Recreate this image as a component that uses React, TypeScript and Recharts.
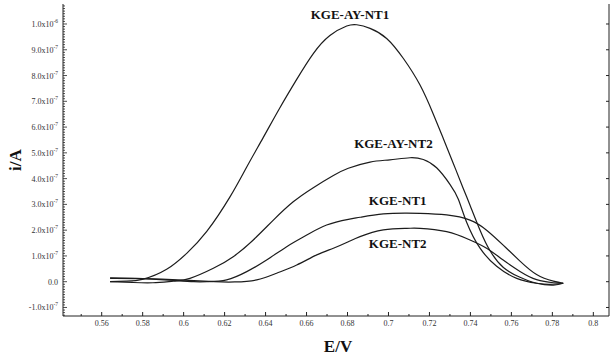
import React from 'react';
import { LineChart, Line, XAxis, YAxis, ReferenceDot, Label } from 'recharts';

// current values are in units of 1e-7 A
const UNIT = 1e-7;

const AY_NT1_E = [0.5641, 0.572, 0.5803, 0.5917, 0.6015, 0.6113, 0.6227, 0.6308, 0.6389, 0.647, 0.6552, 0.6633, 0.6714, 0.6796, 0.6845, 0.691, 0.6991, 0.7072, 0.7154, 0.7219, 0.7268, 0.7316, 0.7365, 0.7398, 0.7447, 0.7496, 0.7561, 0.7642, 0.7723, 0.7805, 0.7853];
const AY_NT1_I = [0.0, 0.02, 0.1, 0.48, 1.1, 1.95, 3.3, 4.45, 5.6, 6.75, 7.85, 8.85, 9.55, 9.92, 9.97, 9.83, 9.44, 8.67, 7.63, 6.5, 5.55, 4.6, 3.62, 2.97, 2.0, 1.2, 0.55, 0.17, -0.06, -0.13, -0.06];

const AY_NT2_E = [0.5641, 0.575, 0.585, 0.595, 0.6031, 0.6145, 0.6242, 0.634, 0.6438, 0.6535, 0.6633, 0.6731, 0.6804, 0.691, 0.7007, 0.7105, 0.717, 0.7235, 0.73, 0.7341, 0.7382, 0.7447, 0.7528, 0.7626, 0.7723, 0.7788, 0.7853];
const AY_NT2_I = [0.0, -0.03, -0.04, 0.02, 0.13, 0.52, 0.97, 1.62, 2.39, 3.1, 3.65, 4.12, 4.4, 4.64, 4.73, 4.81, 4.74, 4.42, 3.78, 3.2, 2.3, 1.3, 0.6, 0.13, -0.06, -0.1, -0.06];

const NT1_E = [0.5641, 0.58, 0.595, 0.605, 0.612, 0.621, 0.6308, 0.6405, 0.6503, 0.6601, 0.6698, 0.6804, 0.6861, 0.6975, 0.7089, 0.7154, 0.7284, 0.7398, 0.7479, 0.756, 0.7642, 0.7723, 0.7805, 0.7853];
const NT1_I = [0.15, 0.12, 0.05, 0.0, 0.0, 0.07, 0.39, 0.84, 1.36, 1.81, 2.2, 2.42, 2.5, 2.63, 2.66, 2.65, 2.59, 2.39, 2.0, 1.42, 0.8, 0.28, 0.02, -0.06];

const NT2_E = [0.5641, 0.58, 0.6, 0.615, 0.625, 0.6357, 0.6454, 0.6552, 0.665, 0.6731, 0.6804, 0.6861, 0.6975, 0.7089, 0.7154, 0.7284, 0.7398, 0.7479, 0.756, 0.7642, 0.7723, 0.7805, 0.7853];
const NT2_I = [0.13, 0.12, 0.06, 0.0, -0.01, 0.07, 0.33, 0.65, 1.04, 1.3, 1.55, 1.75, 2.01, 2.07, 2.07, 1.94, 1.62, 1.3, 0.84, 0.4, 0.08, -0.04, -0.06];

const SERIES_NAMES = ['KGE-AY-NT1', 'KGE-AY-NT2', 'KGE-NT1', 'KGE-NT2'];
const SERIES_E = [AY_NT1_E, AY_NT2_E, NT1_E, NT2_E];
const SERIES_I = [AY_NT1_I, AY_NT2_I, NT1_I, NT2_I];

// annotation anchor points (data coordinates)
const LABEL_E = [0.6812, 0.7024, 0.7045, 0.7045];
const LABEL_I = [10.38, 5.37, 3.17, 1.49];

const X_DOMAIN = [0.54111, 0.80765];
const Y_DOMAIN = [-1.331 * UNIT, 10.776 * UNIT];

const X_TICKS: number[] = [];
for (let k = 55; k <= 80; k++) X_TICKS.push(k / 100);
const Y_TICKS: number[] = [];
for (let k = -13; k <= 107; k++) Y_TICKS.push(k * 1e-8);
const Y_MAJOR_TICKS: number[] = [];
for (let k = -1; k <= 10; k++) Y_MAJOR_TICKS.push(k * UNIT);

const FONT = '"Liberation Serif", "DejaVu Serif", serif';
const INK = '#222';

const seriesData = SERIES_E.map((es, s) => es.map((e, j) => ({ E: e, i: SERIES_I[s][j] * UNIT })));

const BottomTick = (p: any) => {
  const { x, y, payload } = p;
  const v = payload.value;
  const major = Math.round(v * 100) % 2 === 0;
  return (
    <g>
      <line x1={x} x2={x} y1={y} y2={y - (major ? 4 : 2)} stroke={INK} strokeWidth={1} />
      {major && (
        <text x={x} y={y + 10} textAnchor="middle" fontSize={8} fontFamily={FONT} fill="#333">
          {String(Number(v.toFixed(2)))}
        </text>
      )}
    </g>
  );
};

const TopTick = (p: any) => {
  const { x, y, payload } = p;
  const major = Math.round(payload.value * 100) % 2 === 0;
  return <line x1={x} x2={x} y1={y} y2={y + (major ? 4 : 2)} stroke={INK} strokeWidth={1} />;
};

const LeftTick = (p: any) => {
  const { x, y, payload } = p;
  const k = Math.round(payload.value / 1e-8);
  const major = k % 10 === 0;
  const m = k / 10;
  let label: any = null;
  if (major) {
    if (m === 0) {
      label = (
        <text x={x - 5} y={y + 3} textAnchor="end" fontSize={8} fontFamily={FONT} fill="#333">0.0</text>
      );
    } else {
      const exp = Math.abs(m) >= 10 ? -6 : -7;
      const mant = exp === -6 ? m / 10 : m;
      label = (
        <text x={x - 5} y={y + 3} textAnchor="end" fontSize={8} fontFamily={FONT} fill="#333">
          {mant.toFixed(1) + 'x10'}
          <tspan dy={-4} fontSize={5.5}>{String(exp)}</tspan>
        </text>
      );
    }
  }
  return (
    <g>
      <line x1={x} x2={x + (major ? 4 : 2)} y1={y} y2={y} stroke={INK} strokeWidth={0.8} />
      {label}
    </g>
  );
};

const RightTick = (p: any) => {
  const { x, y } = p;
  return <line x1={x - 3} x2={x} y1={y} y2={y} stroke={INK} strokeWidth={1} />;
};

export default function App() {
  return (
    <div style={{ position: 'absolute', left: 0, top: 0, width: 610, height: 356, background: '#fff' }}>
      <LineChart width={610} height={356} margin={{ top: 4, right: 0, bottom: 0, left: 0 }}>
        <XAxis
          xAxisId="b"
          dataKey="E"
          type="number"
          domain={X_DOMAIN}
          allowDataOverflow
          ticks={X_TICKS}
          interval={0}
          tickSize={0}
          tickMargin={0}
          tickLine={false}
          tick={(p: any) => <BottomTick {...p} />}
          axisLine={{ stroke: INK, strokeWidth: 1 }}
          height={40}
        >
          <Label
            content={(lp: any) => {
              const vb = lp.viewBox;
              return (
                <text x={vb.x + vb.width / 2 + 2} y={vb.y + vb.height - 4} textAnchor="middle" fontSize={17} fontWeight="bold" fontFamily={FONT} fill="#111">
                  E/V
                </text>
              );
            }}
          />
        </XAxis>
        <XAxis
          xAxisId="t"
          orientation="top"
          dataKey="E"
          type="number"
          domain={X_DOMAIN}
          allowDataOverflow
          ticks={X_TICKS}
          interval={0}
          tickSize={0}
          tickMargin={0}
          tickLine={false}
          tick={(p: any) => <TopTick {...p} />}
          axisLine={{ stroke: INK, strokeWidth: 1 }}
          height={0}
        />
        <YAxis
          yAxisId="l"
          type="number"
          domain={Y_DOMAIN}
          allowDataOverflow
          ticks={Y_TICKS}
          interval={0}
          tickSize={0}
          tickMargin={0}
          tickLine={false}
          tick={(p: any) => <LeftTick {...p} />}
          axisLine={{ stroke: INK, strokeWidth: 1 }}
          width={63}
        >
          <Label
            content={(lp: any) => {
              const vb = lp.viewBox;
              const cx = vb.x + 15;
              const cy = vb.y + vb.height / 2;
              return (
                <text x={cx} y={cy} transform={`rotate(-90 ${cx} ${cy})`} textAnchor="middle" dominantBaseline="central" fontSize={17} fontWeight="bold" fontFamily={FONT} fill="#111">
                  i/A
                </text>
              );
            }}
          />
        </YAxis>
        <YAxis
          yAxisId="r"
          orientation="right"
          type="number"
          domain={Y_DOMAIN}
          allowDataOverflow
          ticks={Y_MAJOR_TICKS}
          interval={0}
          tickSize={0}
          tickMargin={0}
          tickLine={false}
          tick={(p: any) => <RightTick {...p} />}
          axisLine={{ stroke: INK, strokeWidth: 1 }}
          width={1}
        />
        {seriesData.map((d, s) => (
          <Line
            key={SERIES_NAMES[s]}
            name={SERIES_NAMES[s]}
            data={d}
            dataKey="i"
            xAxisId="b"
            yAxisId="l"
            type="natural"
            stroke="#1c1c1c"
            strokeWidth={1.2}
            dot={false}
            activeDot={false}
            isAnimationActive={false}
          />
        ))}
        {SERIES_NAMES.map((name, s) => (
          <ReferenceDot
            key={'lbl' + name}
            xAxisId="b"
            yAxisId="l"
            x={LABEL_E[s]}
            y={LABEL_I[s] * UNIT}
            ifOverflow="visible"
            shape={(p: any) => (
              <text x={p.cx} y={p.cy} textAnchor="middle" dominantBaseline="central" fontSize={13} fontWeight="bold" fontFamily={FONT} fill="#111">
                {name}
              </text>
            )}
          />
        ))}
      </LineChart>
    </div>
  );
}
